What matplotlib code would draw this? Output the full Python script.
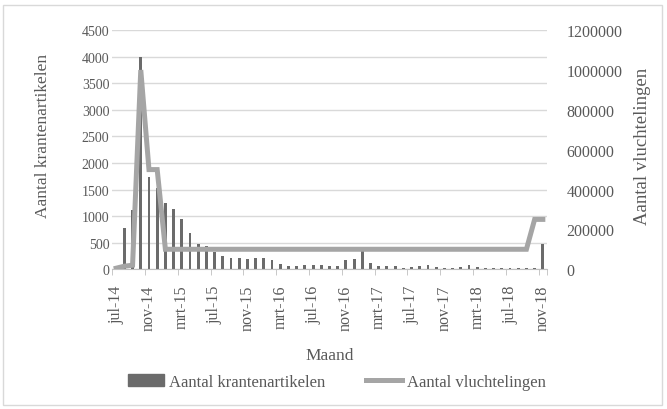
import matplotlib
matplotlib.use("Agg")
import matplotlib.pyplot as plt
from matplotlib.patches import Rectangle
from matplotlib.lines import Line2D
from matplotlib.ticker import FuncFormatter

# maanden jul-14 t/m nov-18
MONTH_NAMES = ["jan", "feb", "mrt", "apr", "mei", "jun",
               "jul", "aug", "sep", "okt", "nov", "dec"]
months = []
for year in range(14, 19):
    for m, name in enumerate(MONTH_NAMES):
        if (year == 14 and m < 6) or (year == 18 and m > 10):
            continue
        months.append(f"{name}-{year}")

artikelen = [30, 780, 1110, 4000, 1740, 1530, 1240, 1140, 950, 680,
             470, 440, 320, 240, 220, 205, 190, 205, 210, 170,
             95, 65, 65, 85, 80, 85, 65, 65, 170, 190,
             350, 125, 65, 65, 60, 30, 50, 65, 75, 50,
             30, 20, 45, 75, 45, 30, 30, 30, 30, 30,
             30, 30, 480]

vluchtelingen = [5000, 15000, 20000, 1000000, 500000, 500000, 100000, 100000, 100000, 100000,
                 100000, 100000, 100000, 100000, 100000, 100000, 100000, 100000, 100000, 100000,
                 100000, 100000, 100000, 100000, 100000, 100000, 100000, 100000, 100000, 100000,
                 100000, 100000, 100000, 100000, 100000, 100000, 100000, 100000, 100000, 100000,
                 100000, 100000, 100000, 100000, 100000, 100000, 100000, 100000, 100000, 100000,
                 100000, 250000, 250000]

TEXT = "#595959"
BAR = "#6b6b6b"
LINE = "#a5a5a5"
GRID = "#d9d9d9"

plt.rcParams["font.family"] = ["Liberation Serif", "DejaVu Serif"]

fig = plt.figure(figsize=(6.67, 4.10), dpi=100)
ax = fig.add_axes([0.168, 0.341, 0.652, 0.583])
ax2 = ax.twinx()

x = list(range(len(months)))
ax.bar(x, artikelen, width=0.35, color=BAR, zorder=2)
ax2.plot(x, vluchtelingen, color=LINE, linewidth=3.6, solid_joinstyle="miter")

ax.set_xlim(-0.5, len(months) - 0.5)
ax.set_ylim(0, 4500)
ax.set_yticks(range(0, 4501, 500))
ax2.set_ylim(0, 1200000)
ax2.set_yticks(range(0, 1200001, 200000))
ax2.yaxis.set_major_formatter(FuncFormatter(lambda v, p: f"{int(v)}"))
ax.grid(axis="y", color=GRID, linewidth=1, zorder=0)
ax.set_axisbelow(True)

ax.set_xticks(x[::4])
ax.set_xticklabels(months[::4], rotation=90, fontsize=11.5, color=TEXT)
ax.set_xticks([i - 0.5 for i in x[::4]] + [len(months) - 0.5], minor=True)
ax.tick_params(axis="x", which="major", length=0, pad=11)
ax.tick_params(axis="x", which="minor", length=4, color="#bfbfbf")
ax.tick_params(axis="y", length=0, labelsize=10, labelcolor=TEXT, pad=2)
ax2.tick_params(axis="y", length=0, labelsize=11.5, labelcolor=TEXT, pad=14)

for a in (ax, ax2):
    for s in ("top", "left", "right"):
        a.spines[s].set_visible(False)
ax.spines["bottom"].set_color("#bfbfbf")
ax2.spines["bottom"].set_visible(False)

ax.set_ylabel("Aantal krantenartikelen", fontsize=12.5, color=TEXT)
ax.yaxis.set_label_coords(-0.14, 0.56)
ax2.set_ylabel("Aantal vluchtelingen", fontsize=13.5, color=TEXT)
ax2.yaxis.set_label_coords(1.2, 0.52)
ax.set_xlabel("Maand", fontsize=12.5, color=TEXT)
ax.xaxis.set_label_coords(0.5, -0.325)

handles = [Rectangle((0, 0), 1, 1, color=BAR),
           Line2D([0], [0], color=LINE, linewidth=3.6)]
fig.legend(handles, ["Aantal krantenartikelen", "Aantal vluchtelingen"],
           loc="center", bbox_to_anchor=(0.505, 0.066), ncol=2, frameon=False,
           fontsize=12, labelcolor=TEXT, handlelength=2.2, handletextpad=0.3,
           columnspacing=2.4)

fig.patches.append(Rectangle((0.005, 0.01), 0.988, 0.975, transform=fig.transFigure,
                             fill=False, edgecolor="#d9d9d9", linewidth=1))

fig.savefig("out.png", dpi=100)
